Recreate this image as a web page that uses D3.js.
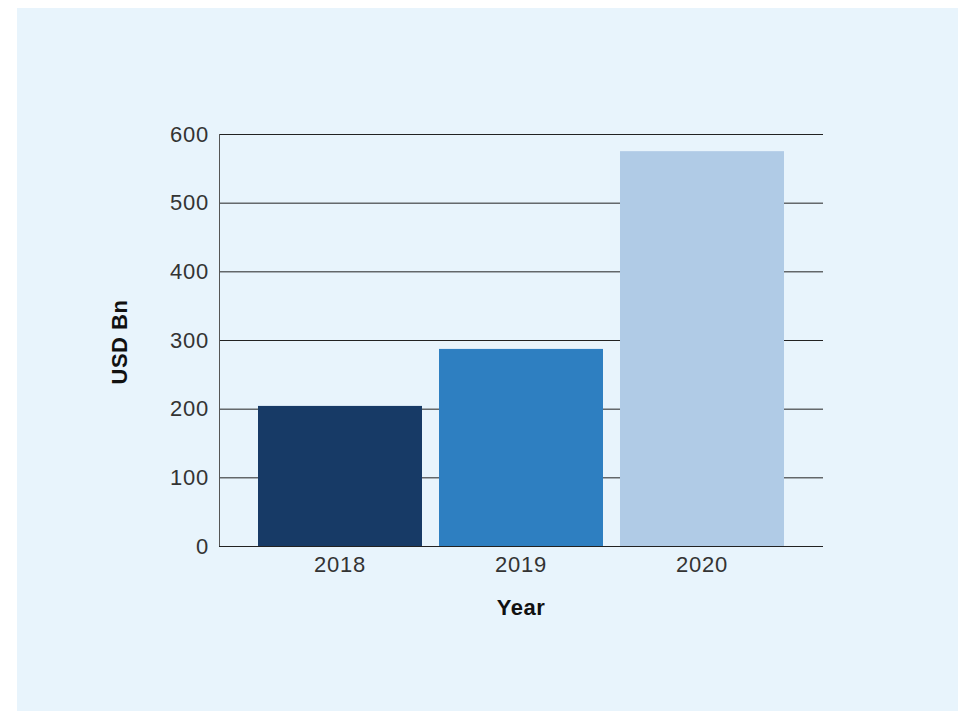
<!DOCTYPE html>
<html>
<head>
<meta charset="utf-8">
<script src="https://cdn.jsdelivr.net/npm/d3@7"></script>
<style>
  body { margin: 0; background: #fff; }
  svg { display: block; }
</style>
</head>
<body>
<svg id="chart"></svg>
<script>
const years = ["2018", "2019", "2020"];
const values = [204, 287, 575];
const barColors = ["#173a66", "#2e7fc1", "#b0cbe6"];
const yTicks = [0, 100, 200, 300, 400, 500, 600];

const width = 958;
const height = 711;
const margin = {top: 134, right: 135, bottom: 165, left: 219};

const svg = d3.select("#chart")
    .attr("width", width)
    .attr("height", height);

// panel background
svg.append("rect")
    .attr("x", 17)
    .attr("y", 8)
    .attr("width", width - 17)
    .attr("height", height - 8)
    .attr("fill", "#e8f4fc");

const x = d3.scaleBand()
    .domain(years)
    .range([margin.left, width - margin.right])
    .paddingInner(0.094)
    .paddingOuter(0.2155);

const y = d3.scaleLinear()
    .domain([0, 600])
    .range([height - margin.bottom, margin.top]);

const font = "'Liberation Sans', Arial, sans-serif";

// gridlines
svg.append("g")
    .selectAll("line")
    .data(yTicks)
    .join("line")
        .attr("x1", margin.left)
        .attr("x2", width - margin.right)
        .attr("y1", d => y(d) + 0.5)
        .attr("y2", d => y(d) + 0.5)
        .attr("stroke", "#222")
        .attr("stroke-width", 1);

// left axis line
svg.append("line")
    .attr("x1", margin.left + 0.5)
    .attr("x2", margin.left + 0.5)
    .attr("y1", y(600))
    .attr("y2", y(0))
    .attr("stroke", "#555");

// bars
svg.append("g")
    .selectAll("rect")
    .data(values)
    .join("rect")
        .attr("x", (d, i) => x(years[i]))
        .attr("y", d => y(d))
        .attr("width", x.bandwidth())
        .attr("height", d => y(0) - y(d))
        .attr("fill", (d, i) => barColors[i]);

// baseline
svg.append("line")
    .attr("x1", margin.left)
    .attr("x2", width - margin.right)
    .attr("y1", y(0) + 0.5)
    .attr("y2", y(0) + 0.5)
    .attr("stroke", "#222");

// y tick labels
svg.append("g")
    .selectAll("text")
    .data(yTicks)
    .join("text")
        .attr("x", margin.left - 10)
        .attr("y", d => y(d))
        .attr("dy", "0.35em")
        .attr("text-anchor", "end")
        .attr("font-family", font)
        .attr("font-size", 22)
        .attr("letter-spacing", 0.8)
        .attr("fill", "#333")
        .text(d => d);

// x tick labels
svg.append("g")
    .selectAll("text")
    .data(years)
    .join("text")
        .attr("x", d => x(d) + x.bandwidth() / 2)
        .attr("y", y(0) + 26)
        .attr("text-anchor", "middle")
        .attr("font-family", font)
        .attr("font-size", 22)
        .attr("letter-spacing", 0.8)
        .attr("fill", "#333")
        .text(d => d);

// axis titles
svg.append("text")
    .attr("x", (margin.left + width - margin.right) / 2)
    .attr("y", 615)
    .attr("text-anchor", "middle")
    .attr("font-family", font)
    .attr("font-weight", "bold")
    .attr("font-size", 22)
    .attr("letter-spacing", 0.5)
    .attr("fill", "#111")
    .text("Year");

svg.append("text")
    .attr("transform", `translate(127,${(y(0) + y(600)) / 2 + 2}) rotate(-90)`)
    .attr("text-anchor", "middle")
    .attr("font-family", font)
    .attr("font-weight", "bold")
    .attr("font-size", 22)
    .attr("letter-spacing", 0.5)
    .attr("fill", "#111")
    .text("USD Bn");
</script>
</body>
</html>
